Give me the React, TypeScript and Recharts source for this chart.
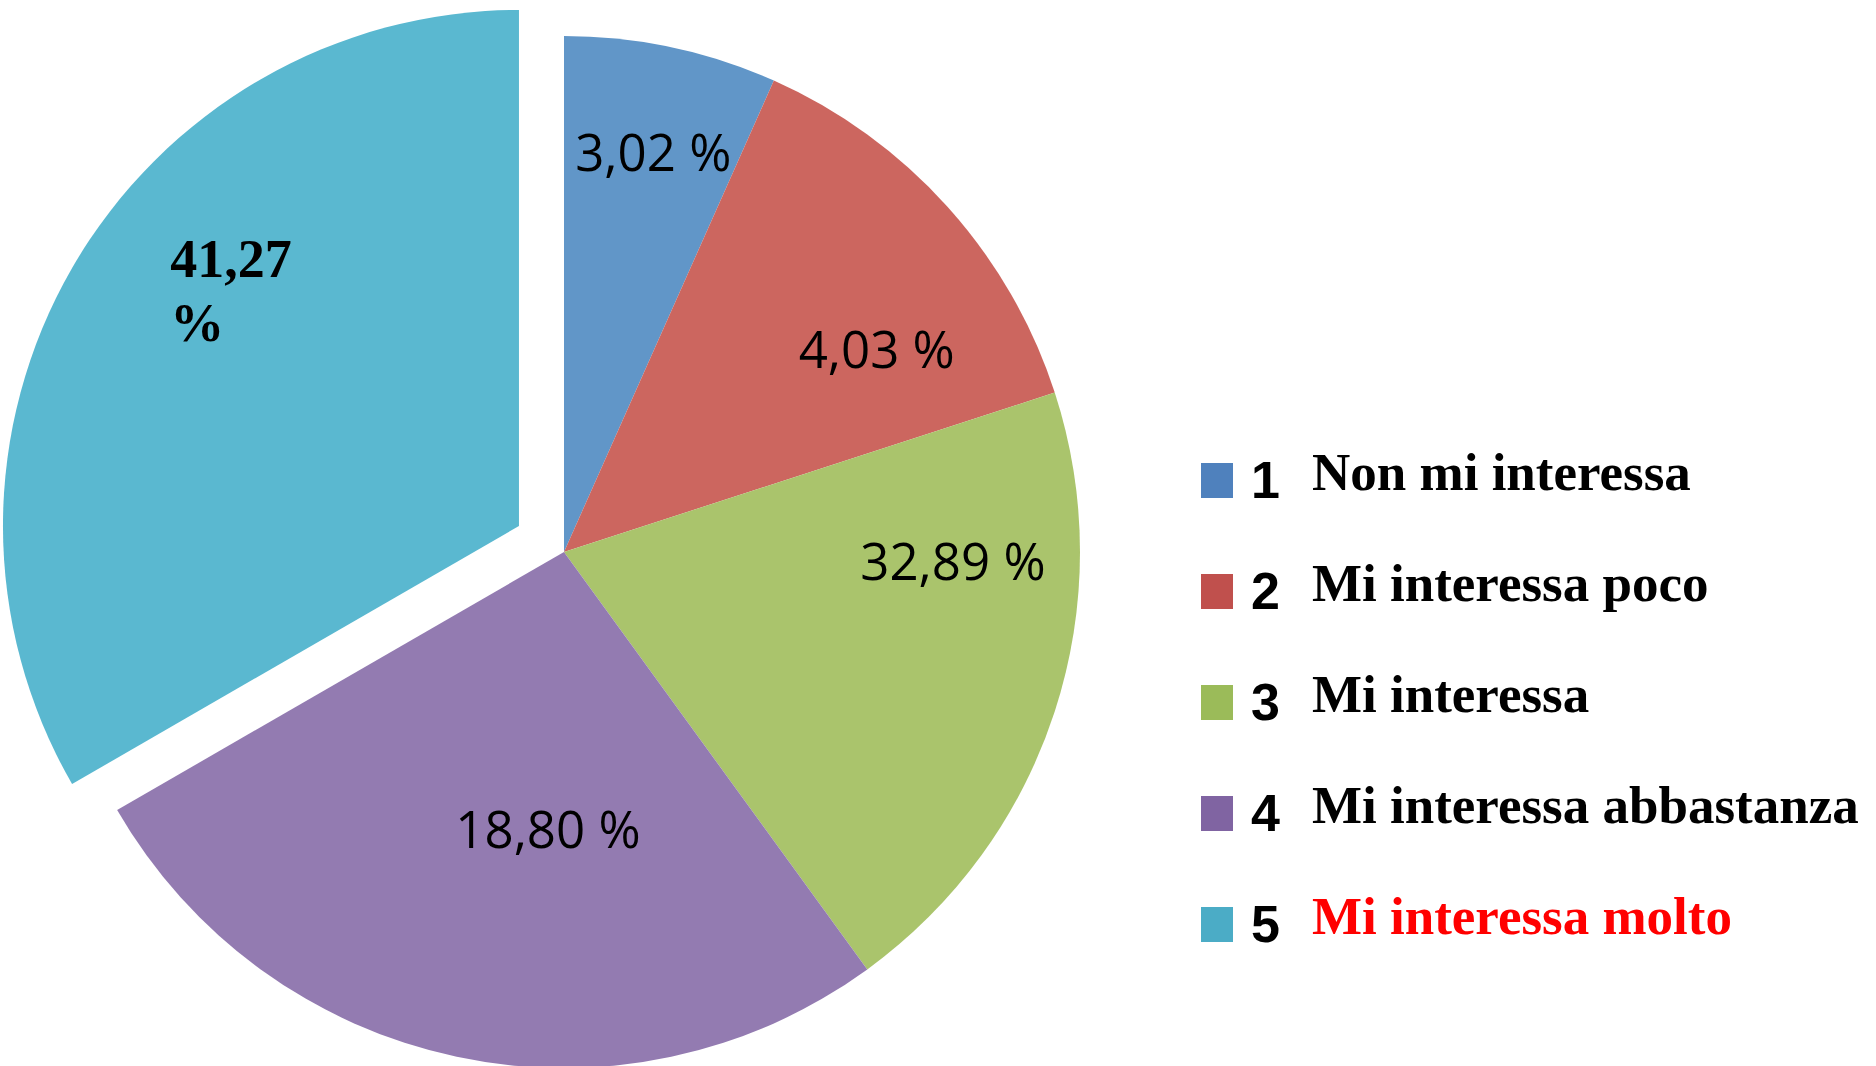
import React from 'react';
import { PieChart, Pie, Cell } from 'recharts';

// ---- data ----
const CATEGORIES = ['1', '2', '3', '4', '5'];
const CATEGORY_NAMES = [
  'Non mi interessa',
  'Mi interessa poco',
  'Mi interessa',
  'Mi interessa abbastanza',
  'Mi interessa molto',
];
const SLICE_VALUES = [1, 2, 3, 4, 5];
const LABEL_TEXTS = ['3,02 %', '4,03 %', '32,89 %', '18,80 %', '41,27 %'];

// ---- styles ----
const SLICE_COLORS = ['#6196C8', '#CC665F', '#AAC46C', '#937BB1', '#5AB8D0'];
const LEGEND_COLORS = ['#4F81BD', '#C0504D', '#9BBB59', '#8064A2', '#4BACC6'];
const LEGEND_TEXT_COLORS = ['#000', '#000', '#000', '#000', '#FF0000'];
const EXPLODE_INDEX = 4;
const EXPLODE_DIST = 52;
// label placement (radius fraction, angle nudge in degrees) like Excel "best fit"
const LABEL_LAYOUT = [
  { r: 0.793, da: -0.6 },
  { r: 0.721, da: -9.2 },
  { r: 0.754, da: 16.5 },
  { r: 0.54, da: 8.7 },
  { r: 0.719, da: -9.4 },
];

const W = 1876;
const H = 1066;
const CX = 564;
const CY = 552;
const R = 516;
const RAD = Math.PI / 180;

const data = CATEGORIES.map((c, i) => ({ name: c, label: CATEGORY_NAMES[i], value: SLICE_VALUES[i] }));

const total = SLICE_VALUES.reduce((a, b) => a + b, 0);
const before = SLICE_VALUES.slice(0, EXPLODE_INDEX).reduce((a, b) => a + b, 0);
const explodeMidFromTop = ((before + SLICE_VALUES[EXPLODE_INDEX] / 2) / total) * 360;
const EX_DX = EXPLODE_DIST * Math.sin(explodeMidFromTop * RAD);
const EX_DY = -EXPLODE_DIST * Math.cos(explodeMidFromTop * RAD);

const renderLabel = (props: any) => {
  const { cx, cy, midAngle, outerRadius, index } = props;
  const lay = LABEL_LAYOUT[index];
  const ang = (midAngle + lay.da) * RAD;
  let ox = cx;
  let oy = cy;
  if (index === EXPLODE_INDEX) {
    ox += EX_DX;
    oy += EX_DY;
  }
  const x = ox + outerRadius * lay.r * Math.cos(-ang);
  const y = oy + outerRadius * lay.r * Math.sin(-ang);
  const text = LABEL_TEXTS[index];
  if (index === EXPLODE_INDEX) {
    const parts = text.split(' ');
    const left = x - 62;
    return (
      <text
        key={`lbl-${index}`}
        fontFamily="'Liberation Serif', serif"
        fontWeight="bold"
        fontSize={54}
        fill="#000"
        textAnchor="start"
      >
        <tspan x={left} y={y - 13.5}>{parts[0]}</tspan>
        <tspan x={left} y={y + 50.5}>{parts[1]}</tspan>
      </text>
    );
  }
  return (
    <text
      key={`lbl-${index}`}
      x={x}
      y={y + 18}
      fontFamily="'Open Sans', sans-serif"
      fontSize={51}
      fill="#000"
      textAnchor="middle"
    >
      {text}
    </text>
  );
};

const Legend = () => {
  const top0 = 463;
  const step = 111;
  return (
    <svg width={W} height={H} style={{ position: 'absolute', left: 0, top: 0, pointerEvents: 'none' }}>
      {CATEGORIES.map((c, i) => {
        const top = top0 + i * step;
        return (
          <g key={c}>
            <rect x={1201} y={top} width={32} height={35} fill={LEGEND_COLORS[i]} />
            <text
              x={1251}
              y={top + 35}
              fontFamily="'Liberation Sans', sans-serif"
              fontWeight="bold"
              fontSize={52}
              fill="#000"
            >
              {c}
            </text>
            <text
              x={1312}
              y={top + 27}
              fontFamily="'Liberation Serif', serif"
              fontWeight="bold"
              fontSize={53}
              fill={LEGEND_TEXT_COLORS[i]}
            >
              {CATEGORY_NAMES[i]}
            </text>
          </g>
        );
      })}
    </svg>
  );
};

export default function App() {
  return (
    <div style={{ position: 'absolute', left: 0, top: 0, width: W, height: H, background: '#fff' }}>
      <PieChart width={W} height={H} margin={{ top: 0, right: 0, bottom: 0, left: 0 }}>
        <Pie
          data={data}
          dataKey="value"
          nameKey="name"
          cx={CX}
          cy={CY}
          outerRadius={R}
          startAngle={90}
          endAngle={-270}
          stroke="none"
          isAnimationActive={false}
          label={renderLabel}
          labelLine={false}
        >
          {data.map((d, i) => (
            <Cell key={d.name} fill={i === EXPLODE_INDEX ? 'none' : SLICE_COLORS[i]} />
          ))}
        </Pie>
        <Pie
          data={data}
          dataKey="value"
          nameKey="name"
          cx={CX + EX_DX}
          cy={CY + EX_DY}
          outerRadius={R}
          startAngle={90}
          endAngle={-270}
          stroke="none"
          isAnimationActive={false}
          label={false}
          labelLine={false}
        >
          {data.map((d, i) => (
            <Cell key={d.name} fill={i === EXPLODE_INDEX ? SLICE_COLORS[i] : 'none'} />
          ))}
        </Pie>
      </PieChart>
      <Legend />
    </div>
  );
}
